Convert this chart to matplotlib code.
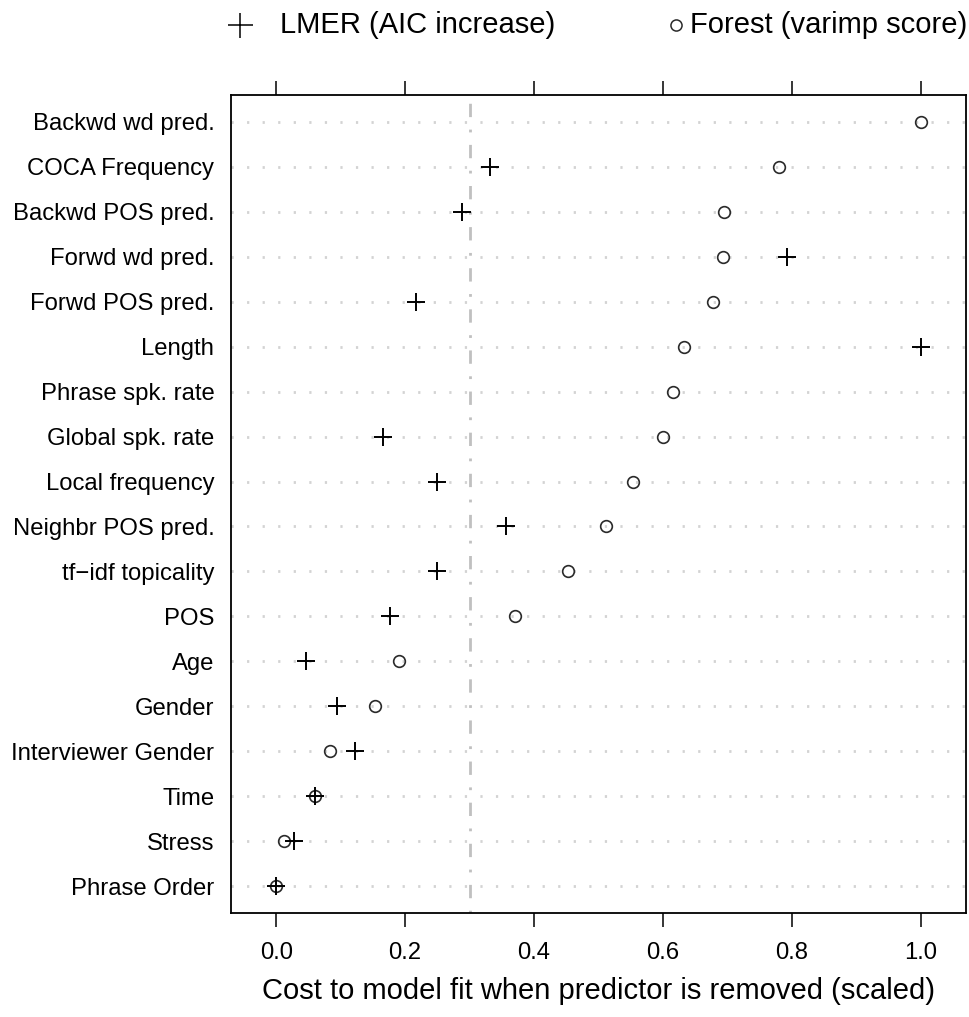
import numpy as np
import matplotlib
matplotlib.use("Agg")
import matplotlib.pyplot as plt
from matplotlib.lines import Line2D

plt.rcParams['font.family'] = ['Liberation Sans', 'DejaVu Sans']

# predictors, ordered top to bottom
predictors = ["Backwd wd pred.", "COCA Frequency", "Backwd POS pred.", "Forwd wd pred.",
              "Forwd POS pred.", "Length", "Phrase spk. rate", "Global spk. rate",
              "Local frequency", "Neighbr POS pred.", "tf\u2212idf topicality", "POS",
              "Age", "Gender", "Interviewer Gender", "Time", "Stress", "Phrase Order"]

# scaled cost of dropping each predictor
forest_score = [1.0, 0.780, 0.695, 0.693, 0.677, 0.632, 0.615, 0.600, 0.553,
                0.511, 0.452, 0.371, 0.190, 0.154, 0.083, 0.061, 0.012, 0.0]
lmer_score = [np.nan, 0.332, 0.289, 0.793, 0.217, 1.0, np.nan, 0.166, 0.250,
              0.356, 0.250, 0.176, 0.046, 0.095, 0.123, 0.061, 0.028, 0.0]

xticks = [0.0, 0.2, 0.4, 0.6, 0.8, 1.0]
cutoff = 0.3

W, H = 969, 1017
fig = plt.figure(figsize=(W / 100, H / 100), dpi=100)
ax = fig.add_axes([231 / W, 1 - 913 / H, (966 - 231) / W, (913 - 95) / H])

n = len(predictors)
ypos = np.arange(n, 0, -1)

# dotted guide lines per row
for y in ypos:
    ax.axhline(y, color='#d3d3d3', lw=2.0, linestyle=(0, (0.8, 4.8)), zorder=1)

# reference line
ax.axvline(cutoff, color='#c0c0c0', lw=2.0, linestyle=(0, (1, 4.5, 4.8, 4.5)), zorder=1)

ax.plot(forest_score, ypos, linestyle='none', marker='o', ms=8.4, mfc='none',
        mec='#2a2a2a', mew=1.2, zorder=3)
ax.plot(lmer_score, ypos, linestyle='none', marker='+', ms=13.5, mec='black',
        mew=1.4, zorder=4)

ax.set_xlim(-0.07, 1.07)
ax.set_ylim(0.4, n + 0.6)
ax.set_yticks(ypos)
ax.set_yticklabels(predictors, fontsize=17.2)
ax.set_xticks(xticks)
ax.set_xticklabels([f"{t:.1f}" for t in xticks], fontsize=17.2)
ax.tick_params(axis='y', length=0, pad=12)
ax.tick_params(axis='x', length=10, width=1.1, pad=11, top=True, direction='out')
for s in ax.spines.values():
    s.set_linewidth(1.3)

fig.text(598.5 / W, 1 - 991 / H, "Cost to model fit when predictor is removed (scaled)",
         ha='center', va='center', fontsize=21)

# key at the top
ly = 1 - 25 / H
fig.add_artist(Line2D([240 / W], [ly], marker='+', ms=18, mec='black', mew=1.1,
                      linestyle='none', transform=fig.transFigure))
fig.text(280 / W, ly, "LMER (AIC increase)", ha='left', va='center', fontsize=21)
fig.add_artist(Line2D([676 / W], [ly], marker='o', ms=8, mfc='none', mec='#2a2a2a',
                      mew=1.1, linestyle='none', transform=fig.transFigure))
fig.text(690 / W, ly, "Forest (varimp score)", ha='left', va='center', fontsize=21)

fig.savefig("out.png", dpi=100)
